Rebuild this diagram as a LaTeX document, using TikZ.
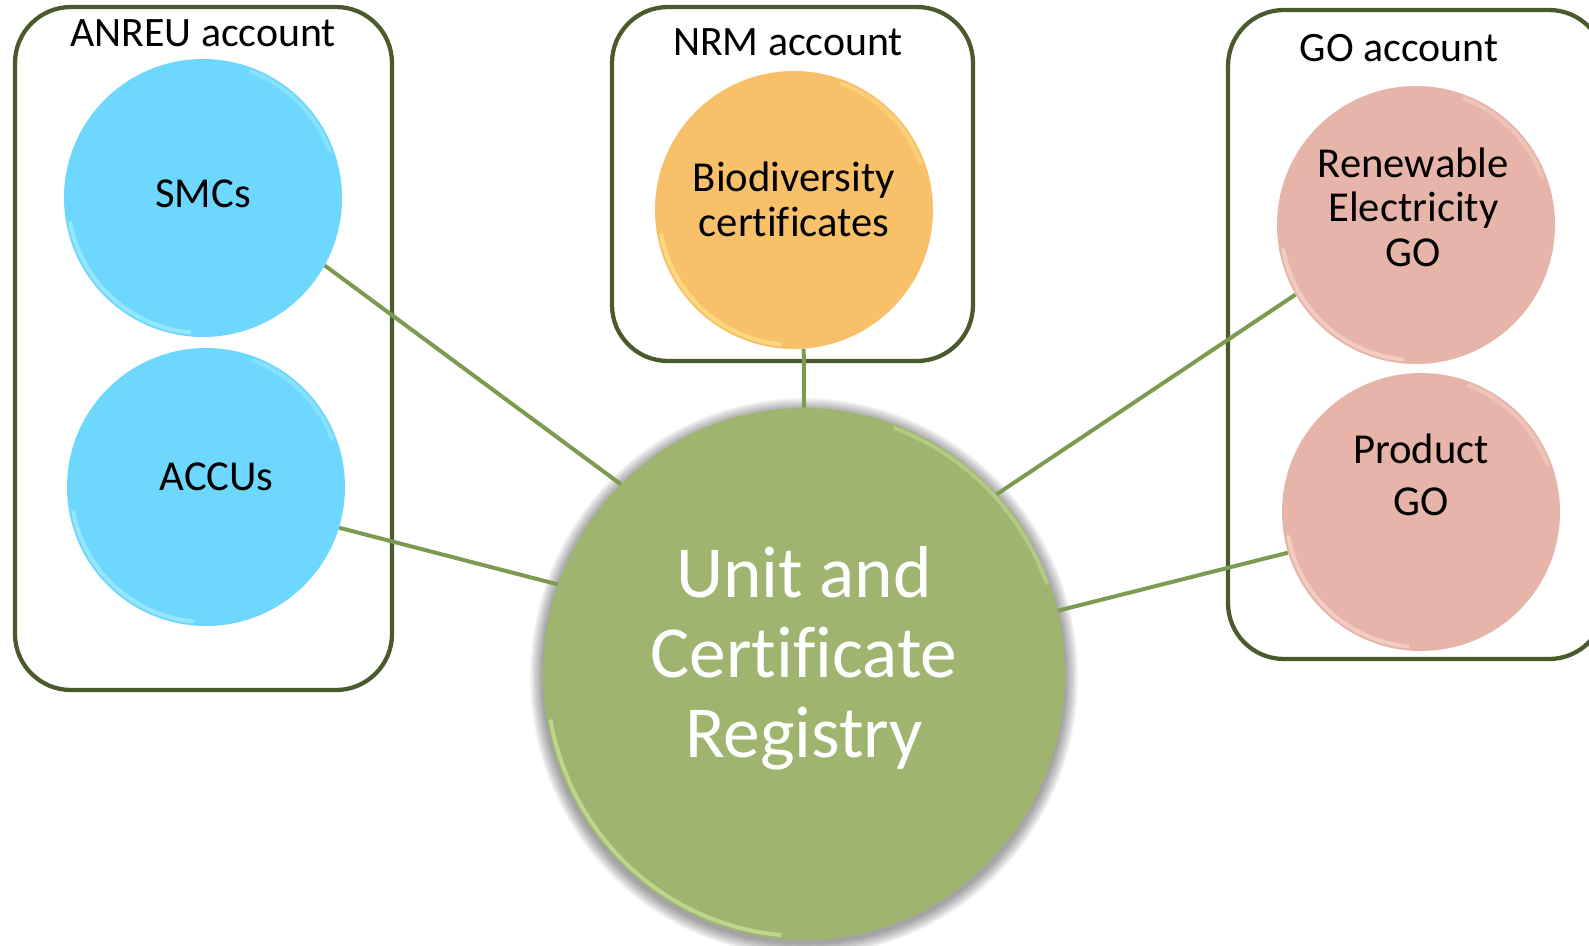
\documentclass[tikz,border=0pt]{standalone}
\usepackage{fontspec}
\setmainfont{Carlito}[Ligatures=NoCommon]
\usepackage{xcolor}
\usepackage{tikz}
\usetikzlibrary{shapes.geometric}

\definecolor{acctline}{HTML}{4B5A2C}
\definecolor{linkgreen}{HTML}{7C9A50}
\definecolor{smcblue}{HTML}{6DD7FE}
\definecolor{bluerim}{HTML}{B2F2FF}
\definecolor{bioorange}{HTML}{F9C06A}
\definecolor{orangerim}{HTML}{FFE88E}
\definecolor{gopink}{HTML}{E6B4A9}
\definecolor{pinkrim}{HTML}{FBDCD2}
\definecolor{regreen}{HTML}{9FB56F}
\definecolor{greenrim}{HTML}{D2EBA2}

\begin{document}
\begin{tikzpicture}[x=0.75pt,y=0.75pt,yscale=-1,xscale=1,
    acct/.style={draw=acctline,line width=3.2pt,rounded corners=42pt},
    unit/.style={circle,inner sep=0pt,minimum size=208.5pt},
    link/.style={draw=linkgreen,line width=3pt},
    rim/.style={line width=3pt,opacity=0.6},
    unittext/.style={align=center,inner sep=0.75pt,font=\fontsize{32}{33.4}\selectfont},
    accttext/.style={anchor=base,inner sep=0.75pt,font=\fontsize{31.4}{36}\selectfont}]
        \useasboundingbox (0,0) rectangle (1589,946);
        \clip (0,0) rectangle (1589,946);

        %Shape: Rounded Rect [id:anreu]
        \draw[acct] (15,7) rectangle (392,690);
        %Shape: Rounded Rect [id:nrm]
        \draw[acct] (612,7) rectangle (973,361);
        %Shape: Rounded Rect [id:go]
        \draw[acct] (1228,10) rectangle (1605,659);

        % Text Node
        \node[accttext] (anreu-t) at (203,46) {ANREU account};
        % Text Node
        \node[accttext] (nrm-t) at (788,55) {NRM account};
        % Text Node
        \node[accttext] (go-t) at (1399,61) {GO account};

        %Shape: Circle [id:smc]
        \node[unit,fill=smcblue] (smc) at (203,198) {};
        %Shape: Circle [id:accu]
        \node[unit,fill=smcblue] (accu) at (206,487) {};
        %Shape: Circle [id:bio]
        \node[unit,fill=bioorange] (bio) at (794,210) {};
        %Shape: Circle [id:regGO]
        \node[unit,fill=gopink] (regGO) at (1416,225) {};
        %Shape: Circle [id:prodGO]
        \node[unit,fill=gopink] (prodGO) at (1421,512) {};

        %Shadow round the registry
        \foreach \d in {1,...,10}
            \fill[black,opacity=0.045] (804,677) ellipse[x radius=261+1.3*\d,y radius=266+1.3*\d];
        %Shape: Ellipse [id:ucr]
        \node[ellipse,inner sep=0pt,minimum width=391.5pt,minimum height=399pt,fill=regreen] (ucr) at (804,674) {};

        %Bevel rims
        \foreach \n/\c in {smc/bluerim,accu/bluerim,bio/orangerim,regGO/pinkrim,prodGO/pinkrim}{
            \draw[rim,draw=\c] (\n) ++(95:135) arc[start angle=95,end angle=170,radius=135];
            \draw[rim,draw=\c,opacity=0.4] (\n) ++(-70:135) arc[start angle=-70,end angle=-20,radius=135];
        }
        \draw[rim,draw=greenrim] (ucr) ++(95:262) arc[start angle=95,end angle=170,x radius=257,y radius=262];
        \draw[rim,draw=greenrim,opacity=0.4] (ucr) ++(-70:262) arc[start angle=-70,end angle=-20,x radius=257,y radius=262];

        % Text Node
        \node[unittext] (smc-t) at ([yshift=-3pt]smc) {SMCs};
        % Text Node
        \node[unittext] (accu-t) at ([xshift=8pt,yshift=-7.5pt]accu) {ACCUs};
        % Text Node
        \node[unittext] (bio-t) at ([yshift=-8pt]bio) {Biodiversity\\certificates};
        % Text Node
        \node[unittext] (regGO-t) at ([xshift=-2pt,yshift=-13.5pt]regGO) {Renewable\\Electricity\\GO};
        % Text Node
        \node[unittext,font=\fontsize{32}{39.5}\selectfont] (prodGO-t) at ([yshift=-28pt]prodGO) {Product\\GO};
        % Text Node
        \node[align=center,text=white,inner sep=0.75pt,font=\fontsize{55}{60}\selectfont] (ucr-t) at ([yshift=-12pt]ucr) {Unit and\\Certificate\\Registry};

        %Links
        \draw[link] (smc.-29) -- (ucr.134);
        \draw[link] (accu.-17) -- (ucr.160);
        \draw[link] (bio.-86) -- (ucr.north);
        \draw[link] (regGO.-150) -- (ucr.43);
        \draw[link] (prodGO.-163) -- (ucr.14);
    \end{tikzpicture}
\end{document}
